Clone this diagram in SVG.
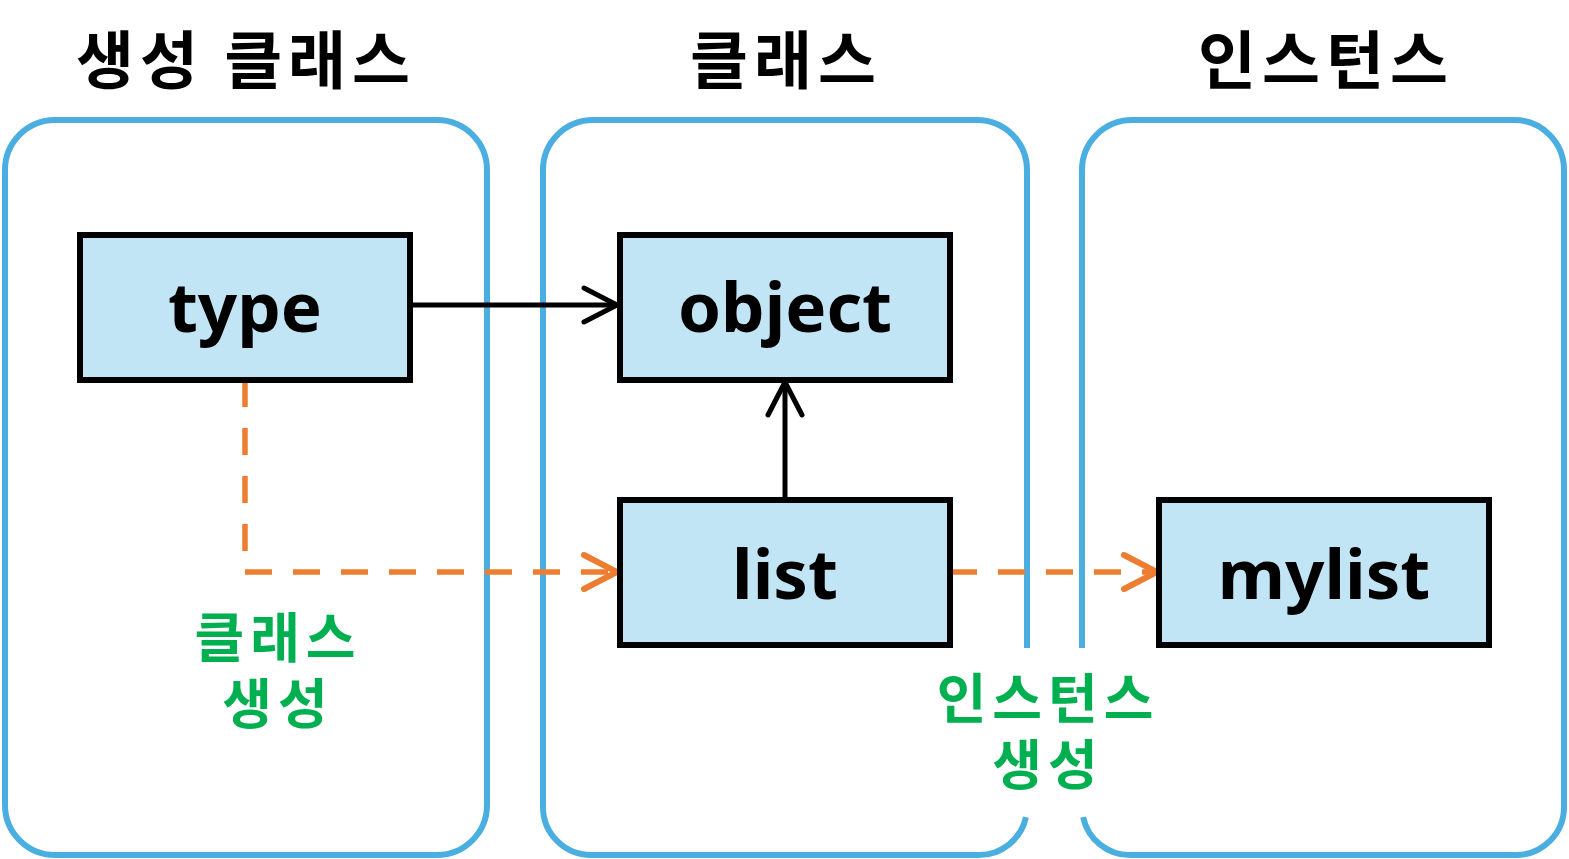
<svg xmlns="http://www.w3.org/2000/svg" width="1569" height="859" viewBox="0 0 1569 859">
<style>
.panel{fill:none;stroke:#4AAFE0;stroke-width:6}
.box{fill:#C2E5F5;stroke:#000;stroke-width:6}
.lbl{font-family:"Noto Sans","Open Sans","Noto Sans CJK KR",sans-serif;font-weight:bold;font-size:69px;fill:#000;text-anchor:middle}
.title{font-family:"Noto Sans CJK KR",sans-serif;font-weight:bold;font-size:63px;letter-spacing:6px;fill:#000;text-anchor:middle}
.note{font-family:"Noto Sans CJK KR",sans-serif;font-weight:bold;font-size:54px;letter-spacing:6px;fill:#00B050;text-anchor:middle}
.solid{fill:none;stroke:#000;stroke-width:5}
.dash{fill:none;stroke:#ED7D31;stroke-width:5.5;stroke-dasharray:27 21}
</style>
<defs>
<marker id="ab" viewBox="0 0 40 40" markerWidth="40" markerHeight="40" refX="36" refY="20" orient="auto" markerUnits="userSpaceOnUse">
<path d="M3 3 L36 20 L3 37" fill="none" stroke="#000" stroke-width="5" stroke-linecap="round" stroke-linejoin="miter"/>
</marker>
<marker id="ao" viewBox="0 0 40 40" markerWidth="40" markerHeight="40" refX="36" refY="20" orient="auto" markerUnits="userSpaceOnUse">
<path d="M3 3 L36 20 L3 37" fill="none" stroke="#ED7D31" stroke-width="6" stroke-linecap="round" stroke-linejoin="miter"/>
</marker>
</defs>
<rect width="1569" height="859" fill="#fff"/>
<g id="panels">
<rect id="panel-gen" class="panel" x="5" y="120" width="482" height="735" rx="50" ry="50"/>
<path id="panel-class" class="panel" d="M1027 648 V170 A50 50 0 0 0 977 120 H593 A50 50 0 0 0 543 170 V807 A48 48 0 0 0 591 855 H979 A48 48 0 0 0 1025.9 817"/>
<path id="panel-inst" class="panel" d="M1083.1 817 A48 48 0 0 0 1130 855 H1516 A48 48 0 0 0 1564 807 V170 A50 50 0 0 0 1514 120 H1132 A50 50 0 0 0 1082 170 V648"/>
</g>
<g id="titles">
<text class="title" x="246" y="83">생성 클래스</text>
<text class="title" x="786" y="83">클래스</text>
<text class="title" x="1326" y="83">인스턴스</text>
</g>
<g id="connectors">
<path class="solid" d="M411 305 H617" marker-end="url(#ab)"/>
<path class="solid" d="M785 500 V382" marker-end="url(#ab)"/>
<path class="dash" d="M245 380 V572 H617" marker-end="url(#ao)"/>
<path class="dash" d="M950 572 H1157" marker-end="url(#ao)"/>
</g>
<g id="node-type">
<rect class="box" x="80" y="235" width="330" height="145"/>
<text class="lbl" x="245" y="332">type</text>
</g>
<g id="node-object">
<rect class="box" x="620" y="235" width="330" height="145"/>
<text class="lbl" x="785" y="332">object</text>
</g>
<g id="node-list">
<rect class="box" x="620" y="500" width="330" height="145"/>
<text class="lbl" x="785" y="599">list</text>
</g>
<g id="node-mylist">
<rect class="box" x="1159" y="500" width="330" height="145"/>
<text class="lbl" x="1324" y="599">mylist</text>
</g>
<g id="notes">
<text class="note" x="278" y="658"><tspan x="278" y="658">클래스</tspan><tspan x="278" y="724">생성</tspan></text>
<text class="note" x="1048" y="719"><tspan x="1048" y="719">인스턴스</tspan><tspan x="1048" y="785">생성</tspan></text>
</g>
</svg>
